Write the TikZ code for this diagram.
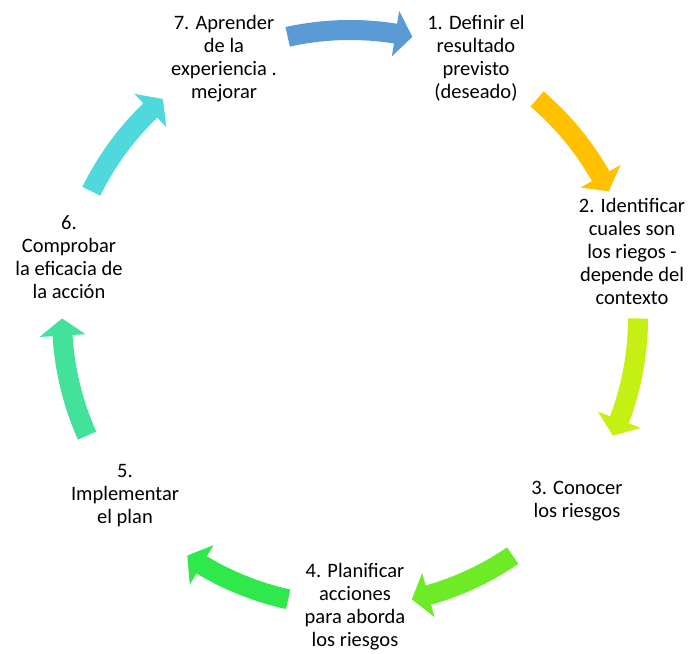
\documentclass[tikz,border=0pt]{standalone}
\usepackage{fontspec}
\setmainfont{Carlito}
\definecolor{cA}{HTML}{5B9BD5}
\definecolor{cB}{HTML}{FFC000}
\definecolor{cC}{HTML}{C6EF13}
\definecolor{cD}{HTML}{6CEB26}
\definecolor{cE}{HTML}{2FE84C}
\definecolor{cF}{HTML}{43E29A}
\definecolor{cG}{HTML}{50D9DC}
\tikzset{lbl/.style={align=center, inner sep=0pt, text=black, font=\fontsize{20.5}{23}\selectfont}}
\begin{document}
\begin{tikzpicture}[x=1pt,y=1pt]
\fill[white] (0,0) rectangle (690,653);
\useasboundingbox (0,0) rectangle (690,653);
\coordinate (O) at (350,335);
\foreach \m/\hs/\col in {90/12.5/cA, 37.8/11.7/cB, -12.1/12/cC, -66.6/11/cD, -113.4/11/cE, -167.9/12/cF, 142.2/11.7/cG}{
  \pgfmathsetmacro\a{\m+\hs}
  \pgfmathsetmacro\b{\m-\hs}
  \pgfmathsetmacro\h{\b+3.4}
  \fill[fill=\col] ([shift={(\a:298)}]O) arc[start angle=\a, end angle=\h, radius=298]
    -- ([shift={(\h:311)}]O) -- ([shift={(\b:288)}]O) -- ([shift={(\h:265)}]O)
    -- ([shift={(\h:278)}]O) arc[start angle=\h, end angle=\a, radius=278] -- cycle;
}
\node[lbl] (n1) at (476,593.7) {\strut 1. Definir el\\resultado\\previsto\\(deseado)\strut};
\node[lbl] (n2) at (632,398.6) {\strut 2. Identificar\\cuales son\\los riegos -\\depende del\\contexto\strut};
\node[lbl] (n3) at (577,152) {\strut 3. Conocer\\los riesgos\strut};
\node[lbl] (n4) at (355,46) {\strut 4. Planificar\\acciones\\para aborda\\los riesgos\strut};
\node[lbl] (n5) at (125,156.6) {\strut 5.\\Implementar\\el plan\strut};
\node[lbl] (n6) at (69,393.1) {\strut 6.\\Comprobar\\la eficacia de\\la acción\strut};
\node[lbl] (n7) at (224,593.7) {\strut 7. Aprender\\de la\\experiencia .\\mejorar\strut};
\end{tikzpicture}
\end{document}
